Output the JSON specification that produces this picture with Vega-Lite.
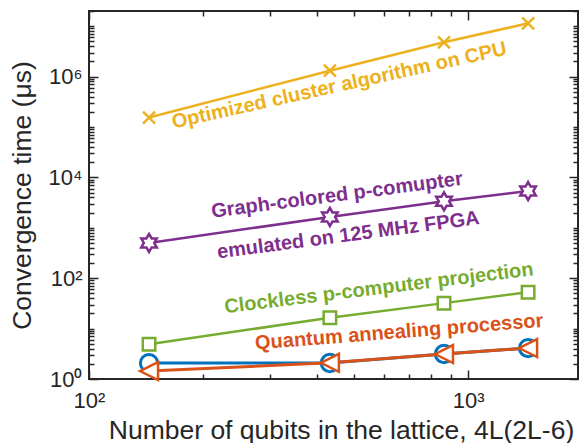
{
  "$schema": "https://vega.github.io/schema/vega-lite/v6.json",
  "autosize": "none",
  "width": 489,
  "height": 368,
  "padding": {"left": 89, "top": 11, "right": 3, "bottom": 64},
  "background": "white",
  "config": {
    "view": {"stroke": "#262626", "strokeWidth": 2},
    "font": "Liberation Sans",
    "axis": {
      "domain": false,
      "grid": false,
      "tickColor": "#262626",
      "tickWidth": 1.5,
      "labelColor": "#262626",
      "titleColor": "#262626",
      "labelFont": "Liberation Sans",
      "titleFont": "Liberation Sans",
      "labelFontSize": 22,
      "titleFontSize": 26.5,
      "titleFontWeight": "normal"
    }
  },
  "datasets": {
    "runs": [
      {"series": "CPU", "qubits": 144, "time": 154000},
      {"series": "CPU", "qubits": 432, "time": 1310000},
      {"series": "CPU", "qubits": 864, "time": 4780000},
      {"series": "CPU", "qubits": 1440, "time": 11400000},
      {"series": "FPGA", "qubits": 144, "time": 500},
      {"series": "FPGA", "qubits": 432, "time": 1640},
      {"series": "FPGA", "qubits": 864, "time": 3350},
      {"series": "FPGA", "qubits": 1440, "time": 5350},
      {"series": "Clockless", "qubits": 144, "time": 4.9},
      {"series": "Clockless", "qubits": 432, "time": 16.4},
      {"series": "Clockless", "qubits": 864, "time": 32},
      {"series": "Clockless", "qubits": 1440, "time": 52.8},
      {"series": "QA circle", "qubits": 144, "time": 2.07},
      {"series": "QA circle", "qubits": 432, "time": 2.08},
      {"series": "QA circle", "qubits": 864, "time": 3.13},
      {"series": "QA circle", "qubits": 1440, "time": 4.11},
      {"series": "QA triangle", "qubits": 144, "time": 1.44},
      {"series": "QA triangle", "qubits": 432, "time": 2.1},
      {"series": "QA triangle", "qubits": 864, "time": 3.13},
      {"series": "QA triangle", "qubits": 1440, "time": 4.11}
    ],
    "notes": [
      {"note": "cpu", "text": "Optimized cluster algorithm on CPU", "qubits": 457, "time": 660000},
      {"note": "fpga1", "text": "Graph-colored p-comupter", "qubits": 451, "time": 4400},
      {"note": "fpga2", "text": "emulated on 125 MHz FPGA", "qubits": 483, "time": 710},
      {"note": "clockless", "text": "Clockless p-computer projection", "qubits": 582, "time": 63},
      {"note": "qa", "text": "Quantum annealing processor", "qubits": 658, "time": 8.5}
    ]
  },
  "resolve": {"axis": {"x": "independent", "y": "independent"}},
  "layer": [
    {
      "data": {"name": "runs"},
      "transform": [{"filter": "datum.series == 'CPU'"}],
      "mark": {"type": "line", "color": "#EDB120", "strokeWidth": 2.5},
      "encoding": {
        "x": {
          "field": "qubits", "type": "quantitative",
          "scale": {"type": "log", "domain": [100, 1950], "nice": false},
          "axis": {
            "orient": "bottom",
            "title": "Number of qubits in the lattice, 4L(2L-6)",
            "titleX": 252,
            "titleY": 59,
            "titleBaseline": "alphabetic",
            "values": [100, 200, 300, 400, 500, 600, 700, 800, 900, 1000],
            "labelExpr": "datum.value == 100 ? '10²' : datum.value == 1000 ? '10³' : ''",
            "tickSize": {"condition": {"test": "datum.value == 100 || datum.value == 1000", "value": -9}, "value": -5},
            "labelPadding": 20,
            "labelFlush": false,
            "labelOverlap": false
          }
        },
        "y": {
          "field": "time", "type": "quantitative",
          "scale": {"type": "log", "domain": [1, 20000000], "nice": false},
          "axis": {
            "orient": "left",
            "title": "Convergence time (μs)",
            "titleX": -67,
            "titleBaseline": "middle",
            "values": [1, 2, 3, 4, 5, 6, 7, 8, 9, 10, 20, 30, 40, 50, 60, 70, 80, 90, 100, 200, 300, 400, 500, 600, 700, 800, 900, 1000, 2000, 3000, 4000, 5000, 6000, 7000, 8000, 9000, 10000, 20000, 30000, 40000, 50000, 60000, 70000, 80000, 90000, 100000, 200000, 300000, 400000, 500000, 600000, 700000, 800000, 900000, 1000000, 2000000, 3000000, 4000000, 5000000, 6000000, 7000000, 8000000, 9000000, 10000000, 20000000],
            "labelExpr": "datum.value == 1 ? '10⁰' : datum.value == 100 ? '10²' : datum.value == 10000 ? '10⁴' : datum.value == 1000000 ? '10⁶' : ''",
            "tickSize": {"condition": {"test": "datum.value == 1 || datum.value == 100 || datum.value == 10000 || datum.value == 1000000", "value": -9}, "value": -5},
            "labelPadding": 16,
            "labelFlush": false,
            "labelOverlap": false
          }
        }
      }
    },
    {
      "data": {"name": "runs"},
      "transform": [{"filter": "datum.series == 'CPU'"}],
      "mark": {"type": "point", "shape": "M-1,-1L1,1M-1,1L1,-1", "filled": false, "color": "#EDB120", "strokeWidth": 2.5, "size": 144, "opacity": 1},
      "encoding": {
        "x": {
          "field": "qubits", "type": "quantitative",
          "axis": {
            "orient": "top", "title": null, "labels": false,
            "values": [100, 200, 300, 400, 500, 600, 700, 800, 900, 1000],
            "tickSize": {"condition": {"test": "datum.value == 100 || datum.value == 1000", "value": -9}, "value": -5}
          }
        },
        "y": {
          "field": "time", "type": "quantitative",
          "axis": {
            "orient": "right", "title": null, "labels": false,
            "values": [1, 2, 3, 4, 5, 6, 7, 8, 9, 10, 20, 30, 40, 50, 60, 70, 80, 90, 100, 200, 300, 400, 500, 600, 700, 800, 900, 1000, 2000, 3000, 4000, 5000, 6000, 7000, 8000, 9000, 10000, 20000, 30000, 40000, 50000, 60000, 70000, 80000, 90000, 100000, 200000, 300000, 400000, 500000, 600000, 700000, 800000, 900000, 1000000, 2000000, 3000000, 4000000, 5000000, 6000000, 7000000, 8000000, 9000000, 10000000, 20000000],
            "tickSize": {"condition": {"test": "datum.value == 1 || datum.value == 100 || datum.value == 10000 || datum.value == 1000000", "value": -9}, "value": -5}
          }
        }
      }
    },
    {
      "data": {"name": "runs"},
      "transform": [{"filter": "datum.series == 'FPGA'"}],
      "mark": {"type": "line", "color": "#7E2F8E", "strokeWidth": 2.5},
      "encoding": {
        "x": {"field": "qubits", "type": "quantitative", "axis": null},
        "y": {"field": "time", "type": "quantitative", "axis": null}
      }
    },
    {
      "data": {"name": "runs"},
      "transform": [{"filter": "datum.series == 'FPGA'"}],
      "mark": {"type": "point", "shape": "M0,-1L0.289,-0.5L0.866,-0.5L0.577,0L0.866,0.5L0.289,0.5L0,1L-0.289,0.5L-0.866,0.5L-0.577,0L-0.866,-0.5L-0.289,-0.5Z", "filled": false, "fill": "white", "fillOpacity": 1, "color": "#7E2F8E", "stroke": "#7E2F8E", "strokeWidth": 2.5, "size": 324, "opacity": 1},
      "encoding": {
        "x": {"field": "qubits", "type": "quantitative", "axis": null},
        "y": {"field": "time", "type": "quantitative", "axis": null}
      }
    },
    {
      "data": {"name": "runs"},
      "transform": [{"filter": "datum.series == 'Clockless'"}],
      "mark": {"type": "line", "color": "#77AC30", "strokeWidth": 2.5},
      "encoding": {
        "x": {"field": "qubits", "type": "quantitative", "axis": null},
        "y": {"field": "time", "type": "quantitative", "axis": null}
      }
    },
    {
      "data": {"name": "runs"},
      "transform": [{"filter": "datum.series == 'Clockless'"}],
      "mark": {"type": "point", "shape": "square", "filled": false, "fill": "white", "fillOpacity": 1, "color": "#77AC30", "stroke": "#77AC30", "strokeWidth": 2.5, "size": 156, "opacity": 1},
      "encoding": {
        "x": {"field": "qubits", "type": "quantitative", "axis": null},
        "y": {"field": "time", "type": "quantitative", "axis": null}
      }
    },
    {
      "data": {"name": "runs"},
      "transform": [{"filter": "datum.series == 'QA circle'"}],
      "mark": {"type": "line", "color": "#0072BD", "strokeWidth": 3},
      "encoding": {
        "x": {"field": "qubits", "type": "quantitative", "axis": null},
        "y": {"field": "time", "type": "quantitative", "axis": null}
      }
    },
    {
      "data": {"name": "runs"},
      "transform": [{"filter": "datum.series == 'QA circle'"}],
      "mark": {"type": "point", "shape": "circle", "filled": false, "fill": "white", "fillOpacity": 1, "color": "#0072BD", "stroke": "#0072BD", "strokeWidth": 3, "size": 300, "opacity": 1},
      "encoding": {
        "x": {"field": "qubits", "type": "quantitative", "axis": null},
        "y": {"field": "time", "type": "quantitative", "axis": null}
      }
    },
    {
      "data": {"name": "runs"},
      "transform": [{"filter": "datum.series == 'QA triangle'"}],
      "mark": {"type": "line", "color": "#D95319", "strokeWidth": 3},
      "encoding": {
        "x": {"field": "qubits", "type": "quantitative", "axis": null},
        "y": {"field": "time", "type": "quantitative", "axis": null}
      }
    },
    {
      "data": {"name": "runs"},
      "transform": [{"filter": "datum.series == 'QA triangle'"}],
      "mark": {"type": "point", "shape": "M-1,0L1,-1L1,1Z", "filled": false, "fill": "white", "fillOpacity": 1, "color": "#D95319", "stroke": "#D95319", "strokeWidth": 2.5, "size": 324, "opacity": 1},
      "encoding": {
        "x": {"field": "qubits", "type": "quantitative", "axis": null},
        "y": {"field": "time", "type": "quantitative", "axis": null}
      }
    },
    {
      "data": {"name": "notes"},
      "transform": [{"filter": "datum.note == 'cpu'"}],
      "mark": {"type": "text", "font": "Liberation Sans", "fontWeight": "bold", "fontSize": 20, "angle": -12.5, "align": "center", "baseline": "middle", "color": "#EDB120"},
      "encoding": {
        "x": {"field": "qubits", "type": "quantitative", "axis": null},
        "y": {"field": "time", "type": "quantitative", "axis": null},
        "text": {"field": "text"}
      }
    },
    {
      "data": {"name": "notes"},
      "transform": [{"filter": "datum.note == 'fpga1' || datum.note == 'fpga2'"}],
      "mark": {"type": "text", "font": "Liberation Sans", "fontWeight": "bold", "fontSize": 20, "angle": -7.5, "align": "center", "baseline": "middle", "color": "#7E2F8E"},
      "encoding": {
        "x": {"field": "qubits", "type": "quantitative", "axis": null},
        "y": {"field": "time", "type": "quantitative", "axis": null},
        "text": {"field": "text"}
      }
    },
    {
      "data": {"name": "notes"},
      "transform": [{"filter": "datum.note == 'clockless'"}],
      "mark": {"type": "text", "font": "Liberation Sans", "fontWeight": "bold", "fontSize": 20, "angle": -7, "align": "center", "baseline": "middle", "color": "#77AC30"},
      "encoding": {
        "x": {"field": "qubits", "type": "quantitative", "axis": null},
        "y": {"field": "time", "type": "quantitative", "axis": null},
        "text": {"field": "text"}
      }
    },
    {
      "data": {"name": "notes"},
      "transform": [{"filter": "datum.note == 'qa'"}],
      "mark": {"type": "text", "font": "Liberation Sans", "fontWeight": "bold", "fontSize": 20, "angle": -4.5, "align": "center", "baseline": "middle", "color": "#D95319"},
      "encoding": {
        "x": {"field": "qubits", "type": "quantitative", "axis": null},
        "y": {"field": "time", "type": "quantitative", "axis": null},
        "text": {"field": "text"}
      }
    }
  ]
}
